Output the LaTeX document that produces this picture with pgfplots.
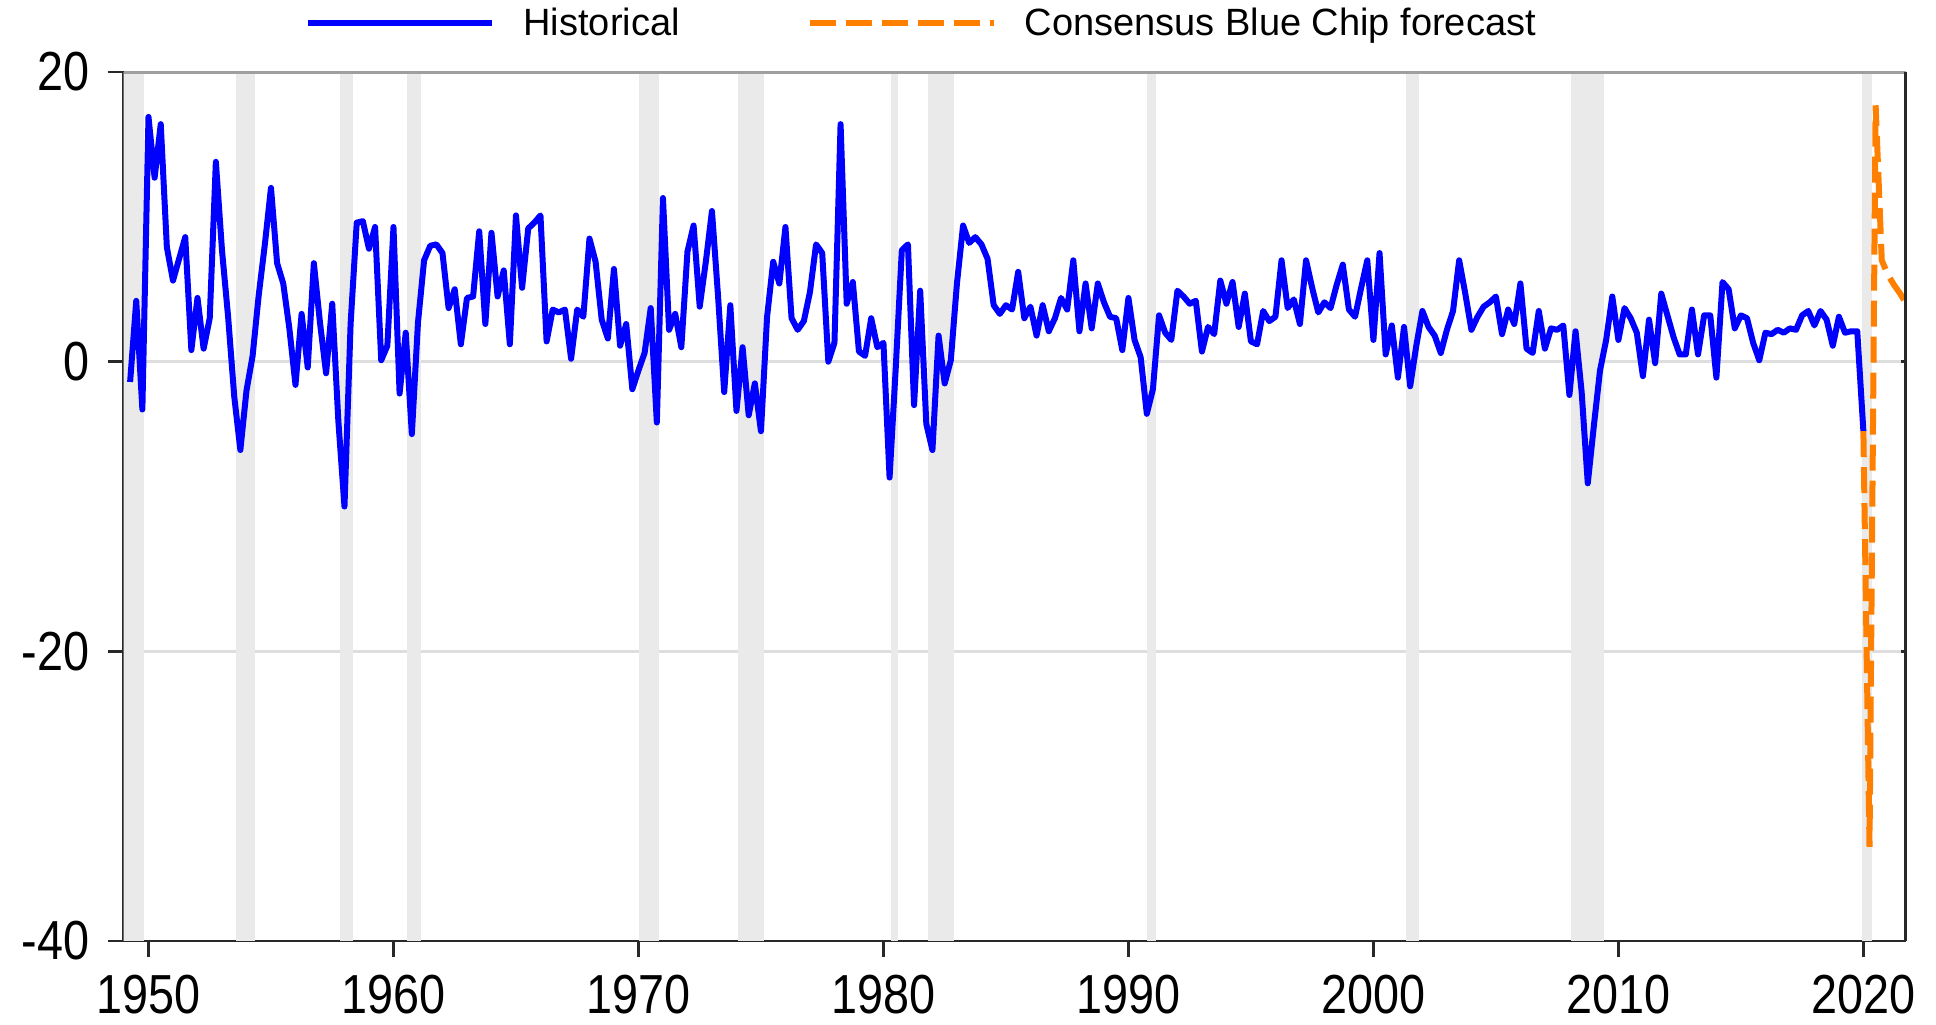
\documentclass[border=0pt]{standalone}
\usepackage{fontspec}
\setmainfont{Liberation Sans}
\newfontfamily\tickfont{Liberation Sans}[FakeStretch=0.85]
\usepackage{pgfplots}
\pgfplotsset{compat=1.18}
\definecolor{histblue}{RGB}{0,0,255}
\definecolor{fcorange}{RGB}{255,128,0}
\definecolor{recgray}{RGB}{234,234,234}
\definecolor{gridgray}{RGB}{222,222,222}
\definecolor{axisdark}{RGB}{40,40,40}

\pgfplotstableread{
x y
1949.25 -1.4
1949.50 4.2
1949.75 -3.3
1950.00 16.9
1950.25 12.7
1950.50 16.4
1950.75 7.9
1951.00 5.6
1951.25 7.1
1951.50 8.6
1951.75 0.8
1952.00 4.4
1952.25 0.9
1952.50 3.0
1952.75 13.8
1953.00 7.7
1953.25 3.1
1953.50 -2.4
1953.75 -6.1
1954.00 -2.0
1954.25 0.4
1954.50 4.6
1954.75 8.1
1955.00 12.0
1955.25 6.8
1955.50 5.4
1955.75 2.3
1956.00 -1.6
1956.25 3.3
1956.50 -0.4
1956.75 6.8
1957.00 2.7
1957.25 -0.8
1957.50 4.0
1957.75 -4.1
1958.00 -10.0
1958.25 2.6
1958.50 9.6
1958.75 9.7
1959.00 7.8
1959.25 9.3
1959.50 0.1
1959.75 1.1
1960.00 9.3
1960.25 -2.2
1960.50 2.0
1960.75 -5.0
1961.00 2.7
1961.25 7.0
1961.50 8.0
1961.75 8.1
1962.00 7.5
1962.25 3.7
1962.50 5.0
1962.75 1.2
1963.00 4.4
1963.25 4.5
1963.50 9.0
1963.75 2.6
1964.00 8.9
1964.25 4.5
1964.50 6.3
1964.75 1.2
1965.00 10.1
1965.25 5.1
1965.50 9.2
1965.75 9.6
1966.00 10.1
1966.25 1.4
1966.50 3.6
1966.75 3.4
1967.00 3.6
1967.25 0.2
1967.50 3.6
1967.75 3.1
1968.00 8.5
1968.25 6.9
1968.50 2.9
1968.75 1.6
1969.00 6.4
1969.25 1.1
1969.50 2.6
1969.75 -1.9
1970.00 -0.6
1970.25 0.6
1970.50 3.7
1970.75 -4.2
1971.00 11.3
1971.25 2.2
1971.50 3.3
1971.75 1.0
1972.00 7.6
1972.25 9.4
1972.50 3.8
1972.75 6.9
1973.00 10.4
1973.25 4.5
1973.50 -2.1
1973.75 3.9
1974.00 -3.4
1974.25 1.0
1974.50 -3.7
1974.75 -1.5
1975.00 -4.8
1975.25 3.1
1975.50 6.9
1975.75 5.4
1976.00 9.3
1976.25 3.0
1976.50 2.2
1976.75 2.8
1977.00 4.8
1977.25 8.1
1977.50 7.5
1977.75 0.0
1978.00 1.3
1978.25 16.4
1978.50 4.0
1978.75 5.5
1979.00 0.7
1979.25 0.4
1979.50 3.0
1979.75 1.0
1980.00 1.3
1980.25 -8.0
1980.50 -0.5
1980.75 7.7
1981.00 8.1
1981.25 -3.0
1981.50 4.9
1981.75 -4.3
1982.00 -6.1
1982.25 1.8
1982.50 -1.5
1982.75 0.1
1983.00 5.4
1983.25 9.4
1983.50 8.2
1983.75 8.6
1984.00 8.1
1984.25 7.1
1984.50 3.9
1984.75 3.3
1985.00 3.9
1985.25 3.6
1985.50 6.2
1985.75 3.0
1986.00 3.8
1986.25 1.8
1986.50 3.9
1986.75 2.1
1987.00 3.0
1987.25 4.4
1987.50 3.6
1987.75 7.0
1988.00 2.1
1988.25 5.4
1988.50 2.3
1988.75 5.4
1989.00 4.1
1989.25 3.1
1989.50 3.0
1989.75 0.8
1990.00 4.4
1990.25 1.5
1990.50 0.3
1990.75 -3.6
1991.00 -1.9
1991.25 3.2
1991.50 2.0
1991.75 1.5
1992.00 4.9
1992.25 4.5
1992.50 4.0
1992.75 4.2
1993.00 0.7
1993.25 2.4
1993.50 1.9
1993.75 5.6
1994.00 4.0
1994.25 5.5
1994.50 2.4
1994.75 4.7
1995.00 1.4
1995.25 1.2
1995.50 3.5
1995.75 2.8
1996.00 3.1
1996.25 7.0
1996.50 3.7
1996.75 4.3
1997.00 2.6
1997.25 7.0
1997.50 5.1
1997.75 3.4
1998.00 4.1
1998.25 3.7
1998.50 5.3
1998.75 6.7
1999.00 3.6
1999.25 3.1
1999.50 5.1
1999.75 7.0
2000.00 1.5
2000.25 7.5
2000.50 0.5
2000.75 2.5
2001.00 -1.1
2001.25 2.4
2001.50 -1.7
2001.75 1.1
2002.00 3.5
2002.25 2.4
2002.50 1.8
2002.75 0.6
2003.00 2.2
2003.25 3.5
2003.50 7.0
2003.75 4.7
2004.00 2.2
2004.25 3.1
2004.50 3.8
2004.75 4.1
2005.00 4.5
2005.25 1.9
2005.50 3.6
2005.75 2.6
2006.00 5.4
2006.25 0.9
2006.50 0.6
2006.75 3.5
2007.00 0.9
2007.25 2.3
2007.50 2.2
2007.75 2.5
2008.00 -2.3
2008.25 2.1
2008.50 -2.1
2008.75 -8.4
2009.00 -4.4
2009.25 -0.6
2009.50 1.5
2009.75 4.5
2010.00 1.5
2010.25 3.7
2010.50 3.0
2010.75 2.0
2011.00 -1.0
2011.25 2.9
2011.50 -0.1
2011.75 4.7
2012.00 3.2
2012.25 1.7
2012.50 0.5
2012.75 0.5
2013.00 3.6
2013.25 0.5
2013.50 3.2
2013.75 3.2
2014.00 -1.1
2014.25 5.5
2014.50 5.0
2014.75 2.3
2015.00 3.2
2015.25 3.0
2015.50 1.3
2015.75 0.1
2016.00 2.0
2016.25 1.9
2016.50 2.2
2016.75 2.0
2017.00 2.3
2017.25 2.2
2017.50 3.2
2017.75 3.5
2018.00 2.5
2018.25 3.5
2018.50 2.9
2018.75 1.1
2019.00 3.1
2019.25 2.0
2019.50 2.1
2019.75 2.1
2020.00 -4.8
}\histtable

\pgfplotstableread{
x y
2020.00 -4.8
2020.25 -33.5
2020.50 17.7
2020.75 7.0
2021.00 6.0
2021.25 5.3
2021.50 4.7
2021.75 4.0
}\fctable

\newcommand{\recession}[2]{%
  \addplot[fill=recgray, draw=none, forget plot] coordinates {(#1,-40) (#1,20) (#2,20) (#2,-40)};}

\begin{document}
\begin{tikzpicture}
\path[use as bounding box] (0,0) rectangle (968pt,512pt);
\begin{axis}[
  at={(61.75pt,41.5pt)}, anchor=south west,
  scale only axis, width=891pt, height=434.5pt,
  xmin=1948.98, xmax=2021.72, ymin=-40, ymax=20,
  axis x line*=bottom, axis y line*=left,
  axis line style={axisdark, line width=1.4pt},
  xtick={1950,1960,1970,1980,1990,2000,2010,2020},
  xticklabels={1950,1960,1970,1980,1990,2000,2010,2020},
  ytick={-40,-20,0,20},
  yticklabels={-40,-20,0,20},
  ymajorgrids, grid style={gridgray, line width=1.3pt},
  tick align=outside, major tick length=8pt,
  tick style={axisdark, line width=1.3pt},
  xticklabel style={font=\tickfont\fontsize{27.5pt}{30pt}\selectfont, inner sep=0pt, yshift=-9pt},
  yticklabel style={font=\tickfont\fontsize{27.5pt}{30pt}\selectfont, inner sep=0pt, xshift=-9pt},
  clip=true,
  legend columns=2,
  legend style={at={(0.1021,1.0564)}, anchor=west, draw=none, fill=none,
    inner sep=0pt, outer sep=0pt, column sep=0pt,
    font=\fontsize{19pt}{22pt}\selectfont,
    nodes={inner sep=0pt},
    /tikz/every even column/.append style={column sep=63.5pt}},
  legend image code/.code={\draw[#1] (0pt,0pt) -- (92pt,0pt); \path (106pt,0pt);},
]
\recession{1948.90}{1949.82}
\recession{1953.56}{1954.36}
\recession{1957.82}{1958.33}
\recession{1960.56}{1961.14}
\recession{1970.02}{1970.82}
\recession{1974.05}{1975.12}
\recession{1980.29}{1980.61}
\recession{1981.80}{1982.88}
\recession{1990.76}{1991.14}
\recession{2001.32}{2001.86}
\recession{2008.05}{2009.42}
\recession{2019.95}{2020.35}
\addplot[histblue, line width=3pt, line join=round] table[x=x,y=y] {\histtable};
\addplot[fcorange, line width=3pt, dash pattern=on 13pt off 5pt] table[x=x,y=y] {\fctable};
\legend{Historical, Consensus Blue Chip forecast}
\end{axis}
\begin{axis}[
  at={(61.75pt,41.5pt)}, anchor=south west,
  scale only axis, width=891pt, height=434.5pt,
  xmin=1948.98, xmax=2021.72, ymin=-40, ymax=20,
  axis x line*=top, axis y line*=right,
  x axis line style={gray!75, line width=1.5pt},
  y axis line style={axisdark, line width=1.4pt},
  xtick=\empty, ytick={-40,-20,0,20}, yticklabels={},
  tick align=inside, major tick length=2.5pt,
  tick style={axisdark, line width=1.3pt},
]
\end{axis}
\end{tikzpicture}
\end{document}
